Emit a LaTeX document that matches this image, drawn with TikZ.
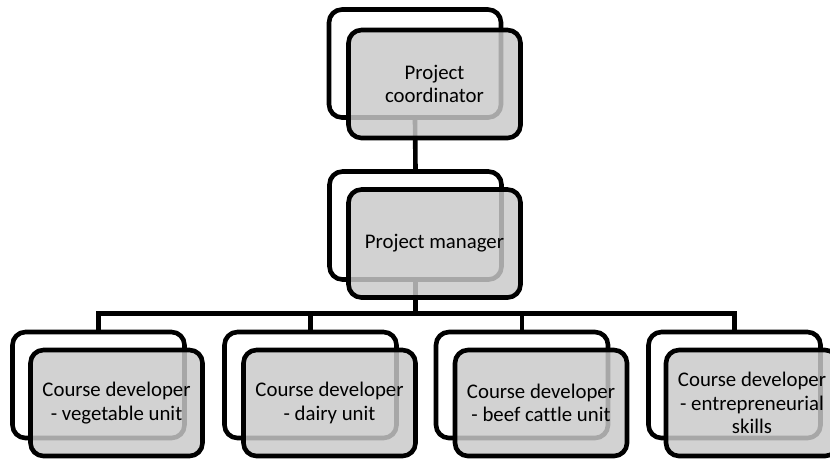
\documentclass[tikz,border=0pt]{standalone}
\usepackage{fontspec}
\setmainfont{Carlito}[Ligatures=NoCommon]
\begin{document}
\begin{tikzpicture}[x=1pt,y=-1pt,
  backbox/.style={draw=black,line width=4.6pt,rounded corners=13pt,fill=white,
    minimum width=172pt,minimum height=106pt,inner sep=0pt},
  frontbox/.style={draw=black,line width=4.6pt,rounded corners=13pt,fill=black!21,fill opacity=0.83,
    text opacity=1,minimum width=172pt,minimum height=106pt,inner sep=0pt,align=center,
    font=\fontsize{20.8}{23.4}\selectfont},
  link/.style={draw=black,line width=4.6pt}]
\clip (0,0) rectangle (830,459);
% back boxes
\node[backbox,minimum height=108pt] (pcB) at (415,63.5) {};
\node[backbox,minimum height=108pt] (pmB) at (415.5,225.5) {};
\node[backbox] (c1B) at (98.5,385) {};
\node[backbox] (c2B) at (310.5,385) {};
\node[backbox] (c3B) at (522,385) {};
\node[backbox] (c4B) at (734.5,385) {};
% connectors
\coordinate (bus) at (417,313.5);
\draw[link] (pcB.south) -- (pmB.north);
\draw[link] (pmB.south) -- (pmB.south |- bus);
\draw[link] (c1B.north) |- (bus) -| (c4B.north);
\draw[link] (c2B.north) -- (c2B.north |- bus);
\draw[link] (c3B.north) -- (c3B.north |- bus);
% front boxes
\node[frontbox,minimum height=108pt] (pc) at (434.5,84) {Project\\coordinator};
\node[frontbox,minimum height=108pt] (pm) at (434.5,243.5) {Project manager};
\node[frontbox] (c1) at (116.5,403) {Course developer\\- vegetable unit};
\node[frontbox] (c2) at (329.5,403) {Course developer\\- dairy unit};
\node[frontbox] (c3) at (541,403) {Course developer\\- beef cattle unit};
\node[frontbox] (c4) at (752,403) {Course developer\\- entrepreneurial\\skills};
\end{tikzpicture}
\end{document}
